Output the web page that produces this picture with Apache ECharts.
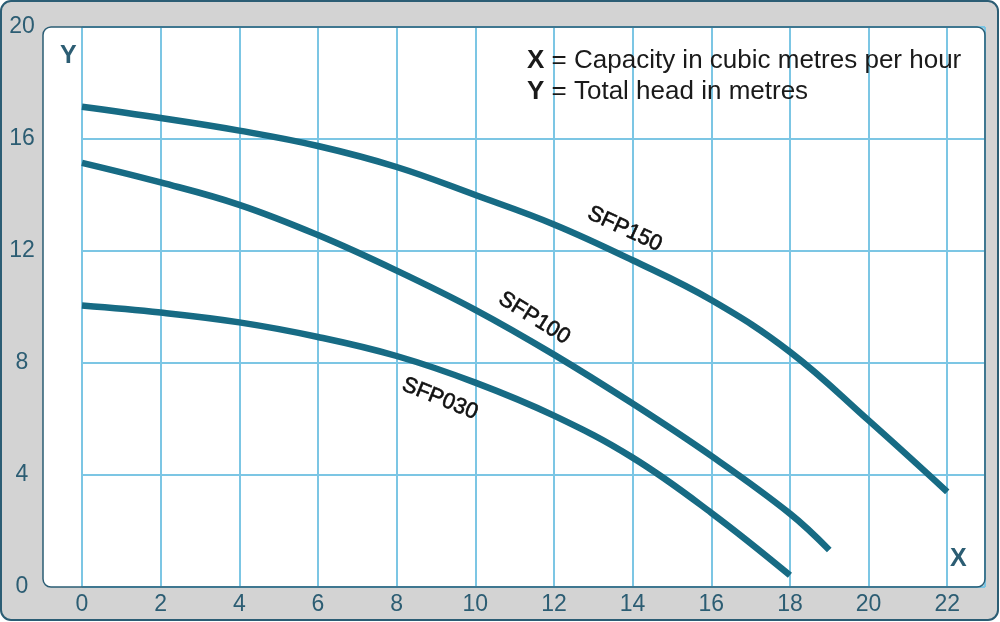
<!DOCTYPE html>
<html><head><meta charset="utf-8">
<script src="https://cdn.jsdelivr.net/npm/echarts@6/dist/echarts.min.js"></script>
<style>html,body{margin:0;padding:0;background:#fff}#c{width:1000px;height:622px}</style>
</head><body><div id="c"></div>
<script>
// Capacity (m3/h) vs total head (m)
const sfp150X = [0, 2, 4, 6, 8, 10, 12, 14, 16, 18, 20, 22];
const sfp150Y = [17.15, 16.75, 16.3, 15.75, 15.0, 14.0, 12.95, 11.67, 10.25, 8.4, 5.95, 3.4];
const sfp100X = [0, 2, 4, 6, 8, 10, 12, 14, 16, 18, 19];
const sfp100Y = [15.15, 14.45, 13.65, 12.57, 11.3, 9.9, 8.3, 6.55, 4.68, 2.62, 1.32];
const sfp030X = [0, 2, 4, 6, 8, 10, 12, 14, 16, 18];
const sfp030Y = [10.05, 9.8, 9.45, 8.93, 8.25, 7.3, 6.12, 4.62, 2.65, 0.42];
const seriesNames = ['SFP150', 'SFP100', 'SFP030'];
const labelPos = [[13.8, 12.78, -25], [11.5, 9.6, -32], [9.1, 6.72, -22]];
const xTicks = [0, 2, 4, 6, 8, 10, 12, 14, 16, 18, 20, 22];
const yTicks = [0, 4, 8, 12, 16, 20];

const curveColor = '#176b84';
const gridColor = '#7cc6e4';
const axisText = '#2c5d73';
const FF = '"Liberation Sans", Arial, sans-serif';

function pts(xs, ys) { return xs.map((x, i) => [x, ys[i]]); }
const allData = [pts(sfp150X, sfp150Y), pts(sfp100X, sfp100Y), pts(sfp030X, sfp030Y)];

const lineSeries = seriesNames.map((name, i) => ({
  name: name, type: 'line', smooth: 0.4, showSymbol: false, symbol: 'none',
  data: allData[i],
  lineStyle: {color: curveColor, width: 6.5, cap: 'butt'},
  markPoint: {
    symbol: 'circle', symbolSize: 0, silent: true,
    itemStyle: {color: 'transparent'},
    data: [{coord: [labelPos[i][0], labelPos[i][1]]}],
    label: {
      show: true, formatter: name, rotate: labelPos[i][2], position: 'inside',
      color: '#111111', fontSize: 22, fontFamily: FF,
      textBorderColor: '#111111', textBorderWidth: 0.6
    }
  }
}));

const chart = echarts.init(document.getElementById('c'), null, {renderer: 'canvas'});
chart.setOption({
  backgroundColor: '#ffffff',
  animation: false,
  graphic: [
    {type: 'rect', z: -20, shape: {x: 1, y: 1, width: 997, height: 619, r: 10},
     style: {fill: '#d3d3d3', stroke: '#2b5d74', lineWidth: 2}},
    {type: 'rect', z: -10, shape: {x: 43, y: 27, width: 942, height: 560, r: 8},
     style: {fill: '#ffffff'}},
    {type: 'rect', z: 100, shape: {x: 43, y: 27, width: 942, height: 560, r: 8},
     style: {fill: 'none', stroke: '#2b5d74', lineWidth: 1.5}},
    {type: 'text', z: 100, left: 60, top: 44,
     style: {text: 'Y', font: 'bold 25px ' + FF, fill: axisText}},
    {type: 'text', z: 100, left: 950, top: 547,
     style: {text: 'X', font: 'bold 25px ' + FF, fill: axisText}},
    {type: 'text', z: 100, left: 527, top: 45,
     style: {
       text: '{b|X} = Capacity in cubic metres per hour\n{b|Y} = Total head in metres',
       font: '26px ' + FF, fill: '#1a1a1a', lineHeight: 31,
       rich: {b: {font: 'bold 26px ' + FF, fill: '#1a1a1a'}}
     }}
  ],
  grid: {left: 82, right: 15, top: 27, bottom: 35, show: false},
  xAxis: {
    type: 'value', min: 0, max: 22.96, interval: 2,
    axisLine: {show: false}, axisTick: {show: false},
    splitLine: {show: true, lineStyle: {color: gridColor, width: 2}},
    axisLabel: {
      color: axisText, fontSize: 23, margin: 6, showMaxLabel: false, fontFamily: FF,
      formatter: v => xTicks.indexOf(v) >= 0 ? String(v) : ''
    }
  },
  yAxis: {
    type: 'value', min: 0, max: 20, interval: 4,
    axisLine: {show: false}, axisTick: {show: false},
    splitLine: {show: true, lineStyle: {color: gridColor, width: 2}},
    axisLabel: {
      color: axisText, fontSize: 23, margin: 60, align: 'center', fontFamily: FF,
      formatter: v => yTicks.indexOf(v) >= 0 ? String(v) : ''
    }
  },
  series: lineSeries
});
</script></body></html>
